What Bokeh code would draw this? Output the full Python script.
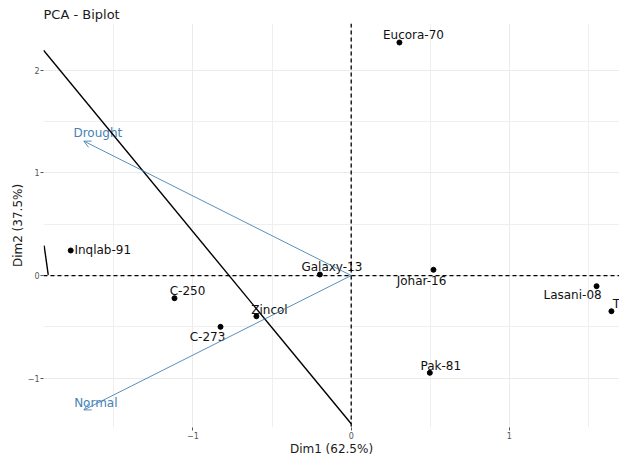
from bokeh.plotting import figure
from bokeh.models import ColumnDataSource, Range1d, FixedTicker, Arrow, OpenHead, Span
from bokeh.embed import file_html
from bokeh.resources import INLINE
from bokeh.core.properties import value

# individuals (genotypes) coordinates on Dim1 / Dim2
genotypes = ["Eucora-70", "Inqlab-91", "C-250", "Zincol", "C-273",
             "Galaxy-13", "Johar-16", "Lasani-08", "T", "Pak-81"]
dim1 = [0.305, -1.773, -1.117, -0.599, -0.826, -0.198, 0.520, 1.551, 1.645, 0.497]
dim2 = [2.271, 0.244, -0.221, -0.397, -0.500, 0.010, 0.056, -0.104, -0.348, -0.948]

# variables (arrows)
variables = ["Drought", "Normal"]
var_dim1 = [-1.69, -1.69]
var_dim2 = [1.31, -1.31]

# hand-drawn black lines
line_x0 = [-1.945, -1.941]
line_y0 = [2.195, 0.292]
line_x1 = [0.0, -1.915]
line_y1 = [-1.445, 0.007]

x_ticks = [-1, 0, 1]
x_minor = [-1.5, -0.5, 0.5, 1.5]
y_ticks = [-1, 0, 1, 2]
y_minor = [-0.5, 0.5, 1.5]

# label placement (screen px offsets, repel-like)
label_dx = [14, 32, 13, 13, -13, 12, -12, -24, 5, 11]
label_dy = [-7, 0, -7, -6, 10, -7, 11, 9, -7, -7]
var_dx = [14, 12]
var_dy = [-8, -7]

FONT = "DejaVu Sans"
BLUE = "#4682B4"

p = figure(width=619, height=459, output_backend="svg", toolbar_location=None,
           x_range=Range1d(-1.945, 1.696), y_range=Range1d(-1.481, 2.456),
           min_border_left=43, min_border_right=0, min_border_top=23, min_border_bottom=32,
           title="PCA - Biplot")
p.outline_line_color = None
p.background_fill_color = "white"
p.border_fill_color = "white"

p.title.text_font = FONT
p.title.text_font_size = "13px"
p.title.text_font_style = "normal"
p.title.text_color = "#1a1a1a"
p.title.standoff = 4
p.title.offset = 0

p.xaxis.ticker = FixedTicker(ticks=x_ticks, minor_ticks=x_minor)
p.yaxis.ticker = FixedTicker(ticks=y_ticks, minor_ticks=y_minor)
p.xaxis.axis_label = "Dim1 (62.5%)"
p.yaxis.axis_label = "Dim2 (37.5%)"
for ax in (p.xaxis, p.yaxis):
    ax.axis_line_color = None
    ax.major_tick_line_color = "#555555"
    ax.major_tick_out = 3
    ax.major_tick_in = 0
    ax.minor_tick_line_color = None
    ax.major_label_text_font = FONT
    ax.major_label_text_font_size = "8px"
    ax.major_label_text_color = "#555555"
    ax.major_label_standoff = 0
    ax.axis_label_text_font = FONT
    ax.axis_label_text_font_size = "12px"
    ax.axis_label_text_font_style = "normal"
    ax.axis_label_text_color = "#1a1a1a"
    ax.axis_label_standoff = 0

for g in (p.xgrid, p.ygrid):
    g.grid_line_color = "#EBEBEB"
    g.grid_line_width = 1
    g.minor_grid_line_color = "#EFEFEF"
    g.minor_grid_line_width = 1

# reference dashed lines at 0
p.add_layout(Span(location=0, dimension="height", line_color="black",
                  line_dash="4 3", line_width=1.3))
p.add_layout(Span(location=0, dimension="width", line_color="black",
                  line_dash="4 3", line_width=1.3))

# variable arrows
var_src = ColumnDataSource(dict(x0=[0, 0], y0=[0, 0], x1=var_dim1, y1=var_dim2,
                                name=variables, dx=var_dx, dy=var_dy))
p.add_layout(Arrow(end=OpenHead(size=7, line_color=BLUE, line_width=0.9),
                   x_start="x0", y_start="y0", x_end="x1", y_end="y1",
                   line_color=BLUE, line_width=0.9, source=var_src))
p.text(x="x1", y="y1", text="name", source=var_src, x_offset="dx", y_offset="dy",
       text_font=value(FONT), text_font_size="12px", text_color=BLUE,
       text_align="center", text_baseline="middle")

# black lines
line_src = ColumnDataSource(dict(x0=line_x0, y0=line_y0, x1=line_x1, y1=line_y1))
p.segment(x0="x0", y0="y0", x1="x1", y1="y1", source=line_src,
          line_color="black", line_width=1.4)

# individuals
ind_src = ColumnDataSource(dict(x=dim1, y=dim2, name=genotypes, dx=label_dx, dy=label_dy))
p.scatter(x="x", y="y", source=ind_src, size=5, color="black")
p.text(x="x", y="y", text="name", source=ind_src, x_offset="dx", y_offset="dy",
       text_font=value(FONT), text_font_size="12px", text_color="#111111",
       text_align="center", text_baseline="middle")

open("out.html", "w").write(file_html(p, INLINE))
